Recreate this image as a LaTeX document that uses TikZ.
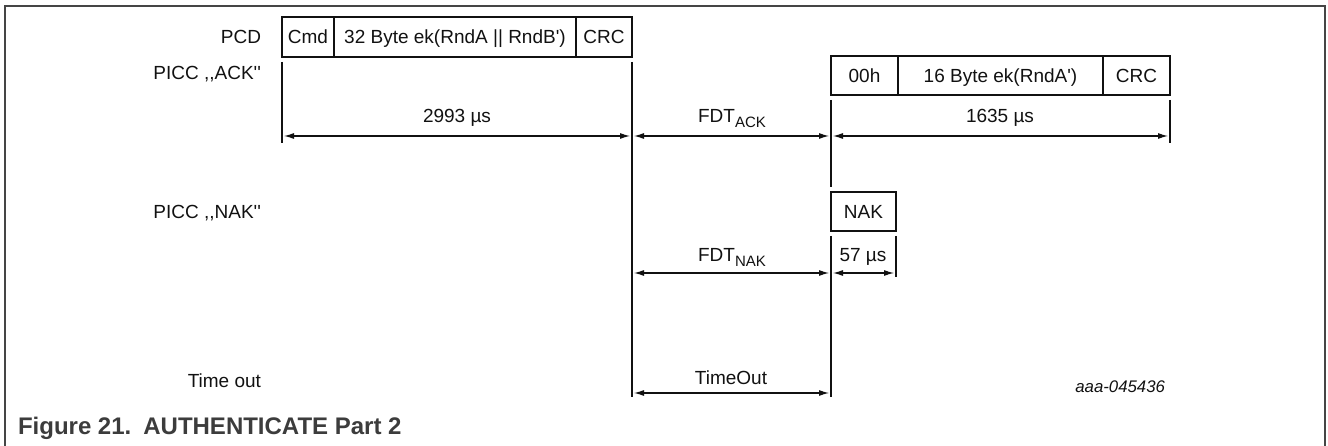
\documentclass[tikz,border=0pt]{standalone}
\usepackage{fontspec}
\setmainfont{Liberation Sans}[Ligatures=TeXOff]
\usetikzlibrary{arrows.meta}
\definecolor{framecol}{HTML}{454545}
\definecolor{capcol}{HTML}{3C3C3C}
\definecolor{inkcol}{HTML}{111111}
\begin{document}
\begin{tikzpicture}[x=1pt,y=-1pt,
  every node/.style={font=\fontsize{19}{22}\selectfont, text=inkcol, inner sep=0pt, outer sep=0pt},
  cell/.style={draw=inkcol, line width=2.6pt, anchor=north west, text height=13.6pt, text depth=0pt},
  pcdcell/.style={cell, minimum height=40pt},
  ackcell/.style={cell, minimum height=39pt},
  thinline/.style={line width=1.1pt, draw=inkcol},
  dim/.style={line width=1.1pt, draw=inkcol, {Latex[length=10pt,width=6pt]}-{Latex[length=10pt,width=6pt]}, shorten <=2pt, shorten >=2pt},
  rowlabel/.style={anchor=base east},
  dimlabel/.style={anchor=base},
]
\useasboundingbox (0,0) rectangle (1328,446);
% frame
\draw[framecol, line width=1.5pt] (5,446) -- (5,6) -- (1325,6) -- (1325,446);

% row labels
\node[rowlabel] (lpcd) at (261,44) {PCD};
\node[rowlabel] (lack) at (261,80) {PICC ,,ACK''};
\node[rowlabel] (lnak) at (261,219) {PICC ,,NAK''};
\node[rowlabel] (lto) at (261,387) {Time out};

% PCD frame
\node[pcdcell, minimum width=52pt] (cmd) at (282,17) {Cmd};
\node[pcdcell, minimum width=242pt] (pdata) at (334,17) {32 Byte ek(RndA || RndB')};
\node[pcdcell, minimum width=56pt] (pcrc) at (576,17) {CRC};

% ACK frame
\node[ackcell, minimum width=67pt] (zero) at (831,56) {00h};
\node[ackcell, minimum width=205pt] (adata) at (898,56) {16 Byte ek(RndA')};
\node[ackcell, minimum width=67pt] (acrc) at (1103,56) {CRC};

% NAK frame
\node[ackcell, minimum width=65pt] (nak) at (831,192) {NAK};

% vertical line ends
\coordinate (v1b) at (282,143);
\coordinate (v2b) at (632,397);
\coordinate (v3m) at (831,187);
\coordinate (v3b) at (831,397);
\coordinate (v4b) at (1170,143);
\coordinate (v5b) at (896,277);

\draw[thinline] ([yshift=-5pt]cmd.south west) -- (v1b);
\draw[thinline] ([yshift=-5pt]pcrc.south east) -- (v2b);
\draw[thinline] ([yshift=-5pt]zero.south west) -- (v3m);
\draw[thinline] ([yshift=-5pt]nak.south west) -- (v3b);
\draw[thinline] ([yshift=-5pt]acrc.south east) -- (v4b);
\draw[thinline] ([yshift=-5pt]nak.south east) -- (v5b);

% dimension points
\coordinate (a1) at (282,136);
\coordinate (a2) at (632,136);
\coordinate (a3) at (831,136);
\coordinate (a4) at (1170,136);
\coordinate (b2) at (632,273);
\coordinate (b3) at (831,273);
\coordinate (b5) at (896,273);
\coordinate (c2) at (632,393);
\coordinate (c3) at (831,393);

\draw[dim] (a1) -- (a2);
\draw[dim] (a2) -- (a3);
\draw[dim] (a3) -- (a4);
\draw[dim] (b2) -- (b3);
\draw[dim] (b3) -- (b5);
\draw[dim] (c2) -- (c3);

\node[dimlabel] (t1) at (457,123) {2993 µs};
\node[dimlabel] (t2) at (732,123) {FDT\raisebox{-5pt}{\fontsize{15}{15}\selectfont ACK}};
\node[dimlabel] (t3) at (1000,123) {1635 µs};
\node[dimlabel] (t4) at (732,262) {FDT\raisebox{-5pt}{\fontsize{15}{15}\selectfont NAK}};
\node[dimlabel] (t5) at (863,262) {57 µs};
\node[dimlabel] (t6) at (731,384) {TimeOut};

\node[anchor=base east, font=\fontsize{16.8}{20}\selectfont\itshape] (code) at (1165,392) {aaa-045436};

\node[anchor=base west, text=capcol, font=\fontsize{24}{27}\selectfont\bfseries] (cap) at (18,434) {Figure 21.\enspace AUTHENTICATE Part 2};
\end{tikzpicture}
\end{document}
